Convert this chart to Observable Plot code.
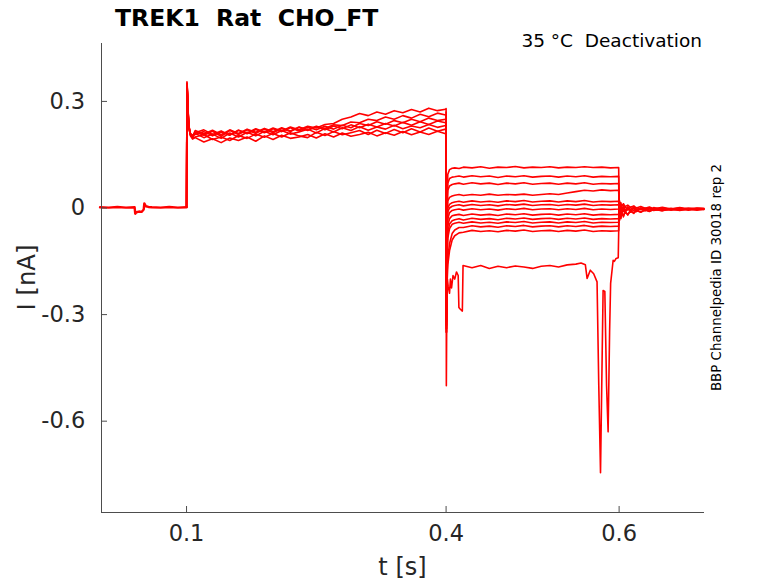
<!DOCTYPE html>
<html><head><meta charset="utf-8">
<script src="https://cdn.jsdelivr.net/npm/d3@7"></script>
<script src="https://cdn.jsdelivr.net/npm/@observablehq/plot@0.6"></script>
<style>body{margin:0;background:#fff;} #chart svg{font-family:"DejaVu Sans";}</style>
</head><body><div id="chart"></div>
<script>
const title = "TREK1  Rat  CHO_FT";
const subtitle = "35 °C  Deactivation";
const sideNote = "BBP Channelpedia ID 30018 rep 2";
const xLabel = "t [s]";
const yLabel = "I [nA]";
const xDomain = [0.0017, 0.6987];
const yDomain = [-0.857, 0.463];
const xTicks = [0.1, 0.4, 0.6];
const xTickLabels = ["0.1", "0.4", "0.6"];
const yTicks = [0.3, 0, -0.3, -0.6];
const yTickLabels = ["0.3", "0", "-0.3", "-0.6"];

// holding segment (all sweeps overlap)
const baseT = [0, 0.01, 0.02, 0.03, 0.04, 0.0407, 0.042, 0.045, 0.048, 0.0505, 0.0512, 0.053, 0.056, 0.06, 0.07, 0.08, 0.09, 0.0995, 0.1];
const baseI = [0.002, 0.001, 0.003, 0.001, 0.002, -0.016, -0.012, -0.01, -0.011, -0.004, 0.013, 0.005, 0.003, 0.002, 0.001, 0.003, 0.001, 0.002, 0.002];

// prepulse segment 0.1 - 0.4 s
const preT = [0.1, 0.1005, 0.1012, 0.102, 0.103, 0.1045, 0.107,
  0.11, 0.12, 0.13, 0.14, 0.15, 0.16, 0.17, 0.18, 0.19, 0.20, 0.21, 0.22, 0.23, 0.24, 0.25,
  0.26, 0.27, 0.28, 0.29, 0.30, 0.31, 0.32, 0.33, 0.34, 0.35, 0.36, 0.37, 0.38, 0.39, 0.3995];
const pre1 = [0.002, 0.35, 0.32, 0.26, 0.225, 0.203, 0.194,
  0.198, 0.186, 0.195, 0.184, 0.197, 0.19, 0.2, 0.188, 0.203, 0.193, 0.205, 0.196, 0.2, 0.207, 0.197,
  0.209, 0.2, 0.211, 0.202, 0.207, 0.213, 0.203, 0.212, 0.205, 0.215, 0.206, 0.214, 0.207, 0.216, 0.209];
const pre2 = [0.002, 0.345, 0.31, 0.255, 0.222, 0.205, 0.197,
  0.2, 0.207, 0.193, 0.2, 0.19, 0.204, 0.196, 0.208, 0.199, 0.21, 0.2, 0.212, 0.203, 0.198, 0.213,
  0.204, 0.215, 0.206, 0.212, 0.218, 0.207, 0.219, 0.21, 0.221, 0.212, 0.223, 0.214, 0.225, 0.216, 0.222];
const pre3 = [0.002, 0.355, 0.325, 0.265, 0.228, 0.208, 0.2,
  0.21, 0.198, 0.208, 0.196, 0.211, 0.2, 0.213, 0.203, 0.216, 0.206, 0.218, 0.208, 0.214, 0.222, 0.211,
  0.224, 0.214, 0.226, 0.218, 0.229, 0.219, 0.228, 0.222, 0.233, 0.223, 0.231, 0.226, 0.235, 0.227, 0.232];
const pre4 = [0.002, 0.34, 0.3, 0.25, 0.22, 0.206, 0.201,
  0.214, 0.205, 0.216, 0.202, 0.218, 0.207, 0.22, 0.21, 0.222, 0.212, 0.224, 0.215, 0.227, 0.218, 0.229,
  0.22, 0.231, 0.223, 0.234, 0.226, 0.236, 0.228, 0.238, 0.231, 0.241, 0.233, 0.243, 0.235, 0.245, 0.24];
const pre5 = [0.002, 0.35, 0.315, 0.26, 0.226, 0.21, 0.204,
  0.207, 0.215, 0.203, 0.214, 0.205, 0.219, 0.209, 0.221, 0.212, 0.223, 0.215, 0.226, 0.217, 0.228, 0.22,
  0.23, 0.222, 0.233, 0.226, 0.238, 0.232, 0.243, 0.236, 0.246, 0.24, 0.25, 0.243, 0.253, 0.246, 0.25];
const pre6 = [0.002, 0.345, 0.31, 0.258, 0.224, 0.207, 0.202,
  0.218, 0.208, 0.219, 0.206, 0.22, 0.21, 0.222, 0.213, 0.224, 0.215, 0.226, 0.217, 0.228, 0.22, 0.23,
  0.224, 0.234, 0.232, 0.242, 0.24, 0.25, 0.246, 0.256, 0.25, 0.26, 0.253, 0.264, 0.257, 0.267, 0.262];
const pre7 = [0.002, 0.352, 0.32, 0.262, 0.227, 0.209, 0.203,
  0.212, 0.22, 0.207, 0.217, 0.205, 0.219, 0.211, 0.223, 0.214, 0.225, 0.217, 0.228, 0.22, 0.23, 0.225,
  0.235, 0.238, 0.25, 0.256, 0.266, 0.26, 0.27, 0.264, 0.274, 0.268, 0.277, 0.27, 0.281, 0.274, 0.278];

// test-pulse (tail) segment 0.4 - 0.6 s
const tailT = [0.4, 0.4004, 0.401, 0.402, 0.404, 0.407, 0.41, 0.415, 0.42,
  0.43, 0.44, 0.45, 0.46, 0.47, 0.48, 0.49, 0.50, 0.51, 0.52, 0.53, 0.54, 0.55, 0.56, 0.57, 0.58, 0.59,
  0.5995, 0.6];
const tail1 = [0.225, -0.3, 0.02, 0.095, 0.108, 0.112, 0.113, 0.111, 0.115,
  0.113, 0.116, 0.112, 0.115, 0.114, 0.117, 0.113, 0.115, 0.114, 0.116, 0.113, 0.115, 0.114, 0.116, 0.114, 0.115, 0.113,
  0.114, 0.005];
const tail2 = [0.22, -0.32, 0.0, 0.07, 0.083, 0.087, 0.088, 0.09, 0.087,
  0.091, 0.088, 0.09, 0.086, 0.09, 0.088, 0.091, 0.087, 0.089, 0.09, 0.087, 0.09, 0.088, 0.091, 0.087, 0.089, 0.088,
  0.089, 0.003];
const tail3 = [0.23, -0.3, -0.02, 0.05, 0.062, 0.066, 0.068, 0.07, 0.067,
  0.071, 0.068, 0.07, 0.066, 0.07, 0.068, 0.071, 0.067, 0.069, 0.07, 0.067, 0.07, 0.068, 0.071, 0.067, 0.069, 0.068,
  0.069, 0.002];
const tail4 = [0.235, -0.33, -0.04, 0.02, 0.03, 0.034, 0.036, 0.038, 0.035,
  0.038, 0.036, 0.039, 0.036, 0.038, 0.037, 0.039, 0.036, 0.038, 0.04, 0.038, 0.042, 0.046, 0.05, 0.048, 0.051, 0.049,
  0.05, 0.0];
const tail5 = [0.24, -0.3, -0.06, 0.0, 0.01, 0.015, 0.017, 0.019, 0.016,
  0.02, 0.017, 0.019, 0.016, 0.02, 0.018, 0.021, 0.017, 0.019, 0.02, 0.017, 0.02, 0.018, 0.021, 0.017, 0.019, 0.018,
  0.019, 0.0];
const tail6 = [0.22, -0.32, -0.07, -0.01, 0.0, 0.005, 0.007, 0.009, 0.006,
  0.01, 0.007, 0.009, 0.006, 0.01, 0.008, 0.011, 0.007, 0.009, 0.01, 0.007, 0.01, 0.008, 0.011, 0.007, 0.009, 0.008,
  0.009, 0.0];
const tail7 = [0.25, -0.34, -0.09, -0.03, -0.013, -0.007, -0.005, -0.003, -0.006,
  -0.002, -0.005, -0.003, -0.006, -0.002, -0.004, -0.001, -0.005, -0.003, -0.002, -0.005, -0.002, -0.004, -0.001, -0.005, -0.003, -0.004,
  -0.003, 0.0];
const tail8 = [0.215, -0.33, -0.11, -0.05, -0.03, -0.022, -0.02, -0.018, -0.021,
  -0.017, -0.02, -0.018, -0.021, -0.017, -0.019, -0.016, -0.02, -0.018, -0.017, -0.02, -0.017, -0.019, -0.016, -0.02, -0.018, -0.019,
  -0.018, 0.0];
const tail9 = [0.26, -0.35, -0.13, -0.07, -0.045, -0.036, -0.033, -0.03, -0.034,
  -0.029, -0.032, -0.03, -0.033, -0.029, -0.031, -0.028, -0.032, -0.03, -0.029, -0.032, -0.029, -0.031, -0.028, -0.032, -0.03, -0.031,
  -0.03, 0.0];
const tail10 = [0.22, -0.34, -0.15, -0.085, -0.058, -0.046, -0.043, -0.04, -0.043,
  -0.039, -0.042, -0.04, -0.043, -0.039, -0.041, -0.038, -0.042, -0.04, -0.039, -0.042, -0.039, -0.041, -0.038, -0.042, -0.04, -0.041,
  -0.04, 0.0];
const tail11 = [0.27, -0.35, -0.19, -0.14, -0.1, -0.072, -0.062, -0.055, -0.055,
  -0.05, -0.053, -0.051, -0.054, -0.05, -0.052, -0.049, -0.053, -0.051, -0.05, -0.053, -0.05, -0.052, -0.049, -0.053, -0.051, -0.052,
  -0.051, 0.0];
const tail12 = [0.28, -0.35, -0.22, -0.16, -0.12, -0.09, -0.078, -0.07, -0.068,
  -0.063, -0.066, -0.064, -0.067, -0.063, -0.065, -0.062, -0.066, -0.064, -0.063, -0.066, -0.063, -0.065, -0.062, -0.066, -0.064, -0.065,
  -0.064, 0.0];

// the unstable sweep
const oddT = [0.4, 0.4003, 0.4008, 0.4015, 0.4024, 0.404, 0.405, 0.4063, 0.408, 0.41, 0.412, 0.414,
  0.4148, 0.4165, 0.4188, 0.4196, 0.43, 0.44, 0.45, 0.46, 0.47, 0.48, 0.49, 0.50, 0.51, 0.52, 0.53, 0.54,
  0.55, 0.556, 0.561, 0.563, 0.5667, 0.5706, 0.5745, 0.5765, 0.5785, 0.5805, 0.5815, 0.5835, 0.5855, 0.5873,
  0.589, 0.5902, 0.5931, 0.5945, 0.5965, 0.599, 0.6];
const oddI = [0.23, -0.5, -0.3, -0.2, -0.22, -0.24, -0.2, -0.225, -0.19, -0.2, -0.18, -0.19,
  -0.28, -0.285, -0.29, -0.162, -0.168, -0.162, -0.17, -0.164, -0.168, -0.163, -0.166, -0.17, -0.164, -0.162, -0.166, -0.16,
  -0.158, -0.155, -0.16, -0.198, -0.175, -0.185, -0.208, -0.5, -0.745, -0.4, -0.232, -0.235, -0.5, -0.63,
  -0.35, -0.212, -0.147, -0.15, -0.142, -0.14, 0.0];

// return to holding 0.6 - 0.7 s
const postT = [0.6, 0.6005, 0.601, 0.602, 0.603, 0.605, 0.607, 0.61, 0.613, 0.617, 0.62,
  0.625, 0.63, 0.635, 0.64, 0.65, 0.66, 0.67, 0.68, 0.69, 0.698];
const post1 = [0.0, 0.02, 0.01, 0.015, 0.005, 0.012, 0.004, 0.008, 0.002, 0.006, 0.0, 0.004, -0.001, 0.003, -0.002, 0.002, -0.003, 0.001, -0.002, 0.0, -0.001];
const post2 = [0.0, -0.035, -0.02, -0.028, -0.015, -0.022, -0.012, -0.018, -0.01, -0.014, -0.008, -0.011, -0.006, -0.009, -0.005, -0.007, -0.004, -0.006, -0.003, -0.005, -0.004];
const post3 = [0.0, -0.01, 0.005, -0.015, 0.002, -0.01, 0.004, -0.006, 0.002, -0.008, 0.001, -0.005, 0.0, -0.006, 0.001, -0.004, -0.001, -0.005, 0.0, -0.003, -0.002];
const post4 = [0.0, 0.012, -0.012, 0.008, -0.018, 0.006, -0.014, 0.003, -0.012, 0.001, -0.01, 0.0, -0.008, -0.001, -0.007, -0.002, -0.006, -0.002, -0.006, -0.003, -0.004];
const post5 = [0.0, -0.025, -0.005, -0.03, -0.01, -0.025, -0.008, -0.02, -0.006, -0.015, -0.005, -0.012, -0.004, -0.01, -0.003, -0.008, -0.002, -0.007, -0.003, -0.006, -0.003];
const post6 = [0.0, 0.008, -0.004, 0.01, -0.006, 0.005, -0.008, 0.002, -0.005, 0.003, -0.007, 0.0, -0.004, 0.001, -0.006, -0.001, -0.003, 0.0, -0.005, -0.001, -0.002];

const rows = [];
function addTrace(id, T, V) {
  const n = Math.min(T.length, V.length);
  for (let i = 0; i < n; i++) rows.push({id, t: T[i], I: V[i]});
}
[pre1, pre2, pre3, pre4, pre5, pre6, pre7].forEach((v, k) => addTrace("pre" + k, preT, v));
[tail1, tail2, tail3, tail4, tail5, tail6, tail7, tail8, tail9, tail10, tail11, tail12].forEach((v, k) => addTrace("tail" + k, tailT, v));
addTrace("odd", oddT, oddI);
[post1, post2, post3, post4, post5, post6].forEach((v, k) => addTrace("post" + k, postT, v));
const baseRows = baseT.map((t, i) => ({t, I: baseI[i]}));

const axisStroke = "#4d4d4d";
const textFill = "#262626";
const plot = Plot.plot({
  width: 778, height: 583,
  marginTop: 43, marginBottom: 71, marginLeft: 101, marginRight: 74,
  style: {fontFamily: "DejaVu Sans", background: "#fff"},
  x: {domain: xDomain},
  y: {domain: yDomain},
  marks: [
    Plot.line(baseRows, {x: "t", y: "I", stroke: "#ff0000", strokeWidth: 2.4}),
    Plot.line(rows, {x: "t", y: "I", z: "id", stroke: "#ff0000", strokeWidth: 1.6}),
    Plot.ruleY([yDomain[0]], {stroke: axisStroke, strokeWidth: 1}),
    Plot.ruleX([xDomain[0]], {stroke: axisStroke, strokeWidth: 1}),
    Plot.axisX(xTicks, {tickSize: -6, tickPadding: 19, fontSize: 22.5, stroke: axisStroke, fill: textFill,
      tickFormat: d => xTickLabels[xTicks.indexOf(d)], label: null}),
    Plot.axisY(yTicks, {tickSize: -6, tickPadding: 22.3, fontSize: 22.5, stroke: axisStroke, fill: textFill,
      tickFormat: d => yTickLabels[yTicks.indexOf(d)], label: null})
  ]
});
document.getElementById("chart").appendChild(plot);

const svg = d3.select(plot);
svg.append("text").text(title).attr("x", 115).attr("y", 26).attr("text-anchor", "start")
  .attr("font-size", 23.5).attr("font-weight", "bold").attr("fill", "#000").style("white-space", "pre");
svg.append("text").text(subtitle).attr("x", 702).attr("y", 46.7).attr("text-anchor", "end")
  .attr("font-size", 18.5).attr("fill", "#000").style("white-space", "pre");
svg.append("text").text(sideNote).attr("transform", "translate(721,277.5) rotate(-90)")
  .attr("text-anchor", "middle").attr("font-size", 13.4).attr("fill", "#000");
svg.append("text").text(xLabel).attr("x", 402.5).attr("y", 575).attr("text-anchor", "middle")
  .attr("font-size", 24).attr("fill", textFill);
svg.append("text").text(yLabel).attr("transform", "translate(35,277.5) rotate(-90)")
  .attr("text-anchor", "middle").attr("font-size", 24.3).attr("fill", textFill);
</script>
</body></html>
